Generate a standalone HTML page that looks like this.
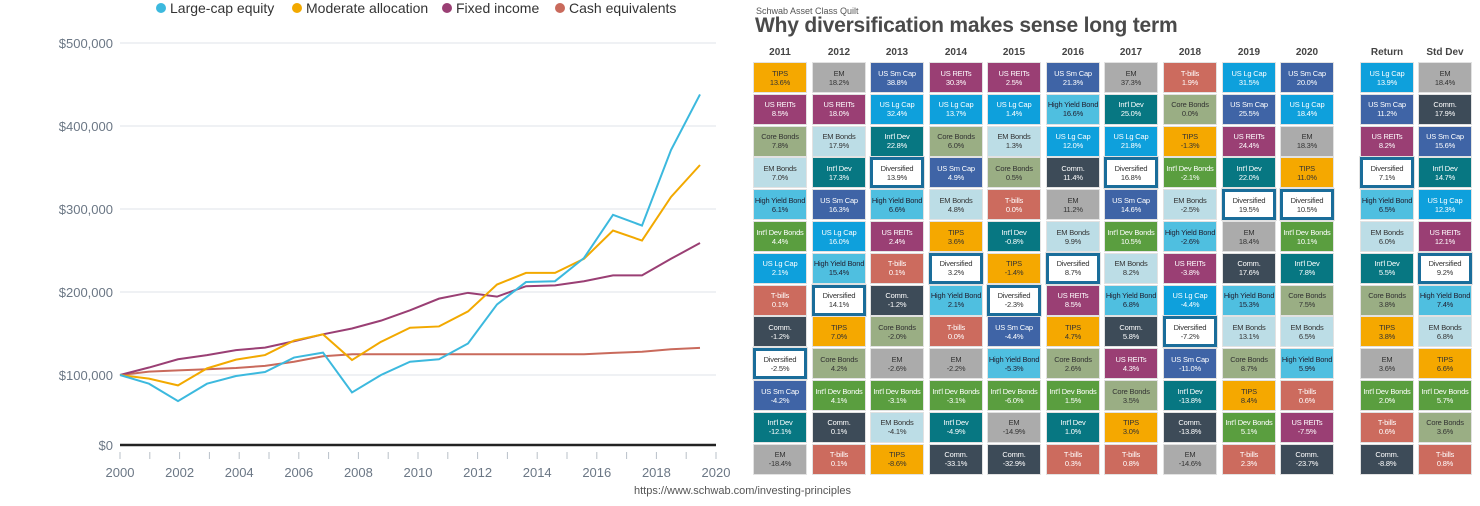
<!DOCTYPE html>
<html><head><meta charset="utf-8">
<style>
body{margin:0;width:1480px;height:506px;background:#fff;position:relative;overflow:hidden;font-family:"Liberation Sans",sans-serif}
#chart{position:absolute;left:0;top:0}
.cell{position:absolute;box-sizing:border-box;font-size:7.5px;line-height:9px;text-align:center;display:flex;flex-direction:column;justify-content:center;border:1px solid #e2e2e2;white-space:nowrap;overflow:hidden;letter-spacing:-0.2px}
.hdr{position:absolute;font-size:10px;font-weight:bold;color:#444;text-align:center;width:54px}
</style></head><body>
<svg id="chart" width="740" height="506"></svg>
<div style="position:absolute;left:756px;top:6px;font-size:9px;color:#555">Schwab Asset Class Quilt</div>
<div style="position:absolute;left:755px;top:14px;font-size:21px;font-weight:bold;color:#4a4a4a;letter-spacing:-0.2px">Why diversification makes sense long term</div>
<div id="quilt"></div>
<div style="position:absolute;left:634px;top:485px;font-size:11px;color:#555">https://www.schwab.com/investing-principles</div>
<script>
const years=[2000,2001,2002,2003,2004,2005,2006,2007,2008,2009,2010,2011,2012,2013,2014,2015,2016,2017,2018,2019,2020];
const largeCap=[100,89.5,68.5,89.5,98.8,103.6,121,127,79,100,116,119,138,185,212,213,241,293,280,371,438];
const moderate=[100,95.6,87.5,108,118.5,124,141.5,149,118,140,157,158.5,176.6,209,223,223,240,274,262,314.5,353];
const fixedInc=[100,109,119,124,130,133,140.7,149,156,165.5,178,192,199,194.4,207,208,213,220,220,240,259];
const cash=[100,104,105.6,106.9,108.5,111,116,122.6,125,125,125,125,125,125,125,125,125,126.6,128,131,132.7];
const yTicks=[100,200,300,400,500];
const yTickLabels=["$100,000","$200,000","$300,000","$400,000","$500,000"];
const xTickLabels=[2000,2002,2004,2006,2008,2010,2012,2014,2016,2018,2020];
const NS="http://www.w3.org/2000/svg";
const svg=document.getElementById('chart');
function xi(i){return 120+i*29;}
function xy(yr){return 120+(yr-2000)*29.8;}
function yv(v){return 375-(v-100)*0.83;}
function mk(t,a){const e=document.createElementNS(NS,t);for(const k in a)e.setAttribute(k,a[k]);svg.appendChild(e);return e;}
yTicks.forEach((v,i)=>{
 const l=mk('line',{x1:120,x2:716,y1:yv(v),y2:yv(v),stroke:'#dfe3e8','stroke-width':1});
 
 
 const t=mk('text',{x:113,y:yv(v)+5,'text-anchor':'end','font-size':13,fill:'#6b7785'});
 t.textContent=yTickLabels[i];
 
 
});
const z=mk('line',{x1:120,x2:716,y1:445,y2:445,stroke:'#222','stroke-width':2.5});


const zt=mk('text',{x:113,y:450,'text-anchor':'end','font-size':13,fill:'#6b7785'});zt.textContent='$0';


for(let yr=2000;yr<=2020;yr++){
 const tk=mk('line',{x1:xy(yr),x2:xy(yr),y1:452,y2:459,stroke:'#b8c0c8','stroke-width':1});
 
 
}
xTickLabels.forEach(yr=>{
 const t=mk('text',{x:xy(yr),y:477,'text-anchor':'middle','font-size':13,fill:'#6b7785'});
 t.textContent=yr;
 
 
});
const series=[[cash,'#c96a5c','cash-equivalents-line'],[fixedInc,'#9a3f74','fixed-income-line'],[moderate,'#f2a900','moderate-allocation-line'],[largeCap,'#3cb9de','large-cap-equity-line']];
series.forEach(s=>{
 const p=mk('polyline',{points:s[0].map((v,i)=>xi(i)+','+yv(v)).join(' '),fill:'none',stroke:s[1],'stroke-width':2});
 
 
});
const legend=[['Large-cap equity','#3cb9de',161],['Moderate allocation','#f2a900',297],['Fixed income','#9a3f74',447],['Cash equivalents','#c96a5c',560]];
legend.forEach(l=>{
 const c=mk('circle',{cx:l[2],cy:8,r:5,fill:l[1]});
 
 
 const t=mk('text',{x:l[2]+9,y:13,'font-size':14,fill:'#333'});t.textContent=l[0];
 
 
});

// Quilt
const colHeaders=["2011","2012","2013","2014","2015","2016","2017","2018","2019","2020","Return","Std Dev"];
const colX=[753,812,870,929,987,1046,1104,1163,1222,1280,1360,1418];
const colors={"TIPS":["#f5a800","#333"],"EM":["#ababab","#333"],"US Sm Cap":["#3f64a6","#fff"],"US REITs":["#9a3f74","#fff"],"US Lg Cap":["#0ea0dc","#fff"],"High Yield Bond":["#4fbfe0","#223"],"Core Bonds":["#9aae84","#333"],"EM Bonds":["#bcdde6","#333"],"Int'l Dev":["#077782","#fff"],"Int'l Dev Bonds":["#5a9e3f","#fff"],"T-bills":["#cc6b5e","#fff"],"Comm.":["#3d4b58","#fff"],"Diversified":["#fff","#333"]};
const q2011=[["TIPS","13.6"],["US REITs","8.5"],["Core Bonds","7.8"],["EM Bonds","7.0"],["High Yield Bond","6.1"],["Int'l Dev Bonds","4.4"],["US Lg Cap","2.1"],["T-bills","0.1"],["Comm.","-1.2"],["Diversified","-2.5"],["US Sm Cap","-4.2"],["Int'l Dev","-12.1"],["EM","-18.4"]];
const q2012=[["EM","18.2"],["US REITs","18.0"],["EM Bonds","17.9"],["Int'l Dev","17.3"],["US Sm Cap","16.3"],["US Lg Cap","16.0"],["High Yield Bond","15.4"],["Diversified","14.1"],["TIPS","7.0"],["Core Bonds","4.2"],["Int'l Dev Bonds","4.1"],["Comm.","0.1"],["T-bills","0.1"]];
const q2013=[["US Sm Cap","38.8"],["US Lg Cap","32.4"],["Int'l Dev","22.8"],["Diversified","13.9"],["High Yield Bond","6.6"],["US REITs","2.4"],["T-bills","0.1"],["Comm.","-1.2"],["Core Bonds","-2.0"],["EM","-2.6"],["Int'l Dev Bonds","-3.1"],["EM Bonds","-4.1"],["TIPS","-8.6"]];
const q2014=[["US REITs","30.3"],["US Lg Cap","13.7"],["Core Bonds","6.0"],["US Sm Cap","4.9"],["EM Bonds","4.8"],["TIPS","3.6"],["Diversified","3.2"],["High Yield Bond","2.1"],["T-bills","0.0"],["EM","-2.2"],["Int'l Dev Bonds","-3.1"],["Int'l Dev","-4.9"],["Comm.","-33.1"]];
const q2015=[["US REITs","2.5"],["US Lg Cap","1.4"],["EM Bonds","1.3"],["Core Bonds","0.5"],["T-bills","0.0"],["Int'l Dev","-0.8"],["TIPS","-1.4"],["Diversified","-2.3"],["US Sm Cap","-4.4"],["High Yield Bond","-5.3"],["Int'l Dev Bonds","-6.0"],["EM","-14.9"],["Comm.","-32.9"]];
const q2016=[["US Sm Cap","21.3"],["High Yield Bond","16.6"],["US Lg Cap","12.0"],["Comm.","11.4"],["EM","11.2"],["EM Bonds","9.9"],["Diversified","8.7"],["US REITs","8.5"],["TIPS","4.7"],["Core Bonds","2.6"],["Int'l Dev Bonds","1.5"],["Int'l Dev","1.0"],["T-bills","0.3"]];
const q2017=[["EM","37.3"],["Int'l Dev","25.0"],["US Lg Cap","21.8"],["Diversified","16.8"],["US Sm Cap","14.6"],["Int'l Dev Bonds","10.5"],["EM Bonds","8.2"],["High Yield Bond","6.8"],["Comm.","5.8"],["US REITs","4.3"],["Core Bonds","3.5"],["TIPS","3.0"],["T-bills","0.8"]];
const q2018=[["T-bills","1.9"],["Core Bonds","0.0"],["TIPS","-1.3"],["Int'l Dev Bonds","-2.1"],["EM Bonds","-2.5"],["High Yield Bond","-2.6"],["US REITs","-3.8"],["US Lg Cap","-4.4"],["Diversified","-7.2"],["US Sm Cap","-11.0"],["Int'l Dev","-13.8"],["Comm.","-13.8"],["EM","-14.6"]];
const q2019=[["US Lg Cap","31.5"],["US Sm Cap","25.5"],["US REITs","24.4"],["Int'l Dev","22.0"],["Diversified","19.5"],["EM","18.4"],["Comm.","17.6"],["High Yield Bond","15.3"],["EM Bonds","13.1"],["Core Bonds","8.7"],["TIPS","8.4"],["Int'l Dev Bonds","5.1"],["T-bills","2.3"]];
const q2020=[["US Sm Cap","20.0"],["US Lg Cap","18.4"],["EM","18.3"],["TIPS","11.0"],["Diversified","10.5"],["Int'l Dev Bonds","10.1"],["Int'l Dev","7.8"],["Core Bonds","7.5"],["EM Bonds","6.5"],["High Yield Bond","5.9"],["T-bills","0.6"],["US REITs","-7.5"],["Comm.","-23.7"]];
const qReturn=[["US Lg Cap","13.9"],["US Sm Cap","11.2"],["US REITs","8.2"],["Diversified","7.1"],["High Yield Bond","6.5"],["EM Bonds","6.0"],["Int'l Dev","5.5"],["Core Bonds","3.8"],["TIPS","3.8"],["EM","3.6"],["Int'l Dev Bonds","2.0"],["T-bills","0.6"],["Comm.","-8.8"]];
const qStd=[["EM","18.4"],["Comm.","17.9"],["US Sm Cap","15.6"],["Int'l Dev","14.7"],["US Lg Cap","12.3"],["US REITs","12.1"],["Diversified","9.2"],["High Yield Bond","7.4"],["EM Bonds","6.8"],["TIPS","6.6"],["Int'l Dev Bonds","5.7"],["Core Bonds","3.6"],["T-bills","0.8"]];
const cols=[q2011,q2012,q2013,q2014,q2015,q2016,q2017,q2018,q2019,q2020,qReturn,qStd];
const quilt=document.getElementById('quilt');
cols.forEach((col,ci)=>{
 const h=document.createElement('div');
 h.className='hdr';h.style.left=colX[ci]+'px';h.style.top='47px';h.textContent=colHeaders[ci];
 
 
 quilt.appendChild(h);
 col.forEach((c,ri)=>{
  const d=document.createElement('div');
  d.className='cell';
  const cl=colors[c[0]];
  d.style.left=colX[ci]+'px';d.style.top=(62+ri*31.8)+'px';d.style.width='54px';d.style.height='31px';
  d.style.background=cl[0];d.style.color=cl[1];
  if(c[0]==='Diversified'){d.style.border='3px solid #1a6d9a';d.style.outline='1px solid #e2e2e2';}
  d.innerHTML='<span>'+c[0]+'</span><span>'+c[1]+'%</span>';
  
  
  quilt.appendChild(d);
 });
});
</script>
</body></html>
